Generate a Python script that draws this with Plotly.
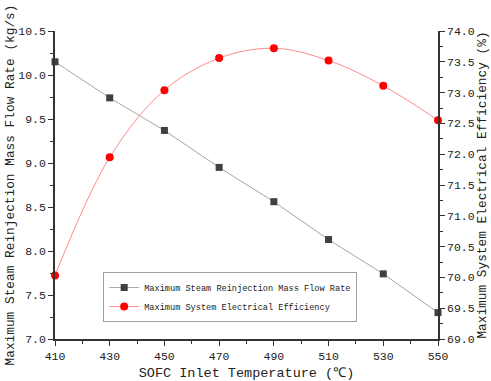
import plotly.graph_objects as go

temps = [410, 430, 450, 470, 490, 510, 530, 550]
steam_flow = [10.15, 9.74, 9.37, 8.95, 8.56, 8.13, 7.74, 7.30]
efficiency = [70.03, 71.95, 73.04, 73.56, 73.72, 73.52, 73.11, 72.55]
x_ticks = [410, 430, 450, 470, 490, 510, 530, 550]

FONT = "Liberation Mono"

fig = go.Figure()
fig.add_trace(go.Scatter(
    x=temps, y=steam_flow, name="Maximum Steam Reinjection Mass Flow Rate",
    mode="lines+markers",
    line=dict(color="#a6a6a6", width=1),
    marker=dict(symbol="square", size=7, color="#404040"),
    yaxis="y", cliponaxis=False))
fig.add_trace(go.Scatter(
    x=temps, y=efficiency, name="Maximum System Electrical Efficiency",
    mode="lines+markers",
    line=dict(color="#ff8c8c", width=1, shape="spline"),
    marker=dict(symbol="circle", size=8, color="#ff0000"),
    yaxis="y2", cliponaxis=False))

axis_common = dict(showline=True, linecolor="#333333", linewidth=1.5,
                   ticks="outside", ticklen=5, tickwidth=1.2, tickcolor="#333333",
                   showgrid=False, zeroline=False, layer="above traces", automargin=False,
                   tickfont=dict(family=FONT, size=11.5, color="#222222"))

fig.update_layout(
    width=491, height=381,
    margin=dict(l=55, r=53, t=31, b=42),
    paper_bgcolor="white", plot_bgcolor="white",
    showlegend=True,
    legend=dict(x=0.789, y=0.055, xanchor="right", yanchor="bottom",
                bgcolor="rgba(255,255,255,1)", bordercolor="#a0a0a0", borderwidth=1,
                font=dict(family=FONT, size=8.6, color="#222222"),
                tracegroupgap=0, itemwidth=30),
    xaxis=dict(range=[410, 550], tickvals=x_ticks,
               title=dict(text="SOFC Inlet Temperature (℃)", standoff=6,
                          font=dict(family=FONT, size=13.5, color="#222222")),
               minor=dict(ticks="outside", ticklen=3, tickcolor="#333333", dtick=10, tick0=410),
               **axis_common),
    yaxis=dict(range=[7.0, 10.5], dtick=0.5, tickformat=".1f",
               title=dict(text="Maximum Steam Reinjection Mass Flow Rate (kg/s)", standoff=1,
                          font=dict(family=FONT, size=12.8, color="#222222")),
               minor=dict(ticks="outside", ticklen=3, tickcolor="#333333", dtick=0.25),
               **axis_common),
    yaxis2=dict(range=[69.0, 74.0], dtick=0.5, tickformat=".1f", overlaying="y", side="right",
                title=dict(text="Maximum System Electrical Efficiency (%)", standoff=2,
                           font=dict(family=FONT, size=12.8, color="#222222")),
                minor=dict(ticks="outside", ticklen=3, tickcolor="#333333", dtick=0.25),
                **axis_common),
)

fig.write_html("out.html", config={"displayModeBar": False},
               post_script="document.body.style.margin='0';")
